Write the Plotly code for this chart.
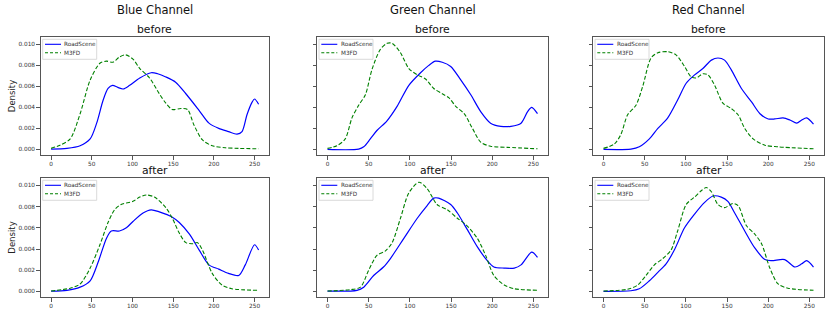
import plotly.graph_objects as go

channels = ["Blue Channel", "Green Channel", "Red Channel"]
stages = ["before", "after"]
series_names = ["RoadScene", "M3FD"]
x_ticks = [0, 50, 100, 150, 200, 250]
y_ticks = [0.000, 0.002, 0.004, 0.006, 0.008, 0.010]

# ---- Blue channel ----
blue_before_rs_x = [0, 19.5, 35.7, 48, 56, 64, 70, 75.5, 82, 88.5, 96.6, 109, 123, 131, 141, 153, 165.6, 182, 194, 206, 218, 228.5, 234.6, 240.7, 247, 250, 255]
blue_before_rs_y = [0.00003, 0.0001, 0.00035, 0.001, 0.0025, 0.0047, 0.0058, 0.0061, 0.0059, 0.00575, 0.0061, 0.0068, 0.0073, 0.0072, 0.0069, 0.0064, 0.0053, 0.0037, 0.0025, 0.002, 0.0017, 0.00146, 0.0017, 0.0033, 0.0045, 0.0048, 0.0043]
blue_before_m3_x = [0, 11, 23.5, 35.7, 48, 60, 68, 76, 84, 91.7, 100.6, 109, 121, 133, 141, 149, 159.5, 167.6, 175.7, 186, 198, 214, 230.5, 255]
blue_before_m3_y = [0.0001, 0.0004, 0.001, 0.0034, 0.0066, 0.0082, 0.0084, 0.0083, 0.0088, 0.009, 0.0086, 0.0077, 0.0068, 0.0053, 0.0044, 0.0038, 0.0039, 0.0038, 0.0023, 0.0009, 0.00035, 0.00016, 0.0001, 0.00006]
blue_after_rs_x = [0, 19.5, 35.7, 48, 58, 68, 74, 84, 92.5, 100.6, 113, 123, 133, 149, 157.5, 170, 182, 194, 206, 218, 230.5, 238.6, 250, 255]
blue_after_rs_y = [0.00003, 0.0001, 0.0004, 0.001, 0.0028, 0.005, 0.0057, 0.0057, 0.006, 0.0066, 0.0074, 0.0077, 0.0075, 0.007, 0.0065, 0.0054, 0.0039, 0.0025, 0.0021, 0.0017, 0.0015, 0.0025, 0.0044, 0.0039]
blue_after_m3_x = [0, 23.5, 35.7, 48, 60, 70, 78, 86, 100.6, 109, 117, 127, 141, 149, 157.5, 165.6, 174, 180, 186, 198, 210, 222, 255]
blue_after_m3_y = [0.00003, 0.0003, 0.0007, 0.0022, 0.0044, 0.0065, 0.0077, 0.0082, 0.0085, 0.0089, 0.0091, 0.0089, 0.0079, 0.0069, 0.0055, 0.0046, 0.0045, 0.0046, 0.0039, 0.0017, 0.0006, 0.00025, 0.0001]

# ---- Green channel ----
green_before_rs_x = [0, 37.8, 44, 52, 60, 72, 84.5, 98.8, 113, 123, 131, 139.4, 149.6, 162, 174, 186, 198, 210.5, 222.8, 235, 243, 248, 255]
green_before_rs_y = [0.0, 0.00003, 0.00025, 0.001, 0.0018, 0.0027, 0.0041, 0.0061, 0.0073, 0.008, 0.0084, 0.0083, 0.0079, 0.0066, 0.0052, 0.0036, 0.0025, 0.0022, 0.0022, 0.0025, 0.0036, 0.004, 0.0034]
green_before_m3_x = [0, 11.4, 21.5, 29.7, 37.8, 46, 54, 64, 72.4, 78.5, 88.6, 98.8, 109, 119, 129, 139.4, 147.6, 155.7, 166, 176, 186, 198, 218.7, 255]
green_before_m3_y = [0.0001, 0.00035, 0.001, 0.003, 0.0042, 0.0052, 0.0076, 0.0095, 0.0101, 0.0101, 0.0092, 0.0077, 0.0071, 0.0067, 0.0058, 0.0053, 0.0049, 0.0041, 0.0034, 0.002, 0.0007, 0.0003, 0.0002, 0.00006]
green_after_rs_x = [0, 35.8, 44, 56, 68, 76.4, 92.7, 109, 121, 129, 135, 149.6, 157.7, 170, 182, 194, 202, 214.6, 226.8, 235, 248, 255]
green_after_rs_y = [0.00003, 0.0001, 0.0004, 0.0015, 0.0023, 0.0031, 0.005, 0.0069, 0.0081, 0.0088, 0.0088, 0.0082, 0.0074, 0.0058, 0.0042, 0.0029, 0.0023, 0.0022, 0.0022, 0.0025, 0.0037, 0.0032]
green_after_m3_x = [0, 27.6, 40, 50, 60, 70, 78.5, 88.6, 98.8, 111, 121, 133, 145.5, 157.7, 168, 182, 192, 202, 214.6, 226.8, 255]
green_after_m3_y = [0.00003, 0.00016, 0.0004, 0.002, 0.0034, 0.0038, 0.0046, 0.0069, 0.0093, 0.0103, 0.0097, 0.0082, 0.0077, 0.0069, 0.0063, 0.005, 0.0034, 0.0015, 0.0006, 0.00025, 0.0001]

# ---- Red channel ----
red_before_rs_x = [0, 33.3, 43.5, 55.7, 66, 78, 90, 100.4, 110.6, 120.7, 131, 139, 147, 155, 167.5, 180, 190, 200, 208, 218, 226.4, 234.6, 240.7, 246.7, 255]
red_before_rs_y = [0.0, 0.00003, 0.00025, 0.001, 0.002, 0.003, 0.0047, 0.0063, 0.0071, 0.0077, 0.0085, 0.0087, 0.0085, 0.0076, 0.0058, 0.0045, 0.0034, 0.0029, 0.0029, 0.003, 0.0028, 0.0025, 0.0028, 0.003, 0.0024]
red_before_m3_x = [0, 13, 21, 29.3, 39.4, 47.6, 57.7, 66, 78, 88, 98.4, 106.5, 112.6, 120.7, 126.8, 135, 145, 155, 163.4, 171.5, 181.7, 196, 212, 255]
red_before_m3_y = [0.0001, 0.0005, 0.0014, 0.0033, 0.0042, 0.006, 0.0087, 0.0092, 0.0093, 0.009, 0.0079, 0.0069, 0.0068, 0.0072, 0.0071, 0.0061, 0.0044, 0.0039, 0.0033, 0.002, 0.001, 0.0004, 0.00025, 0.00006]
red_after_rs_x = [0, 33.3, 43.5, 55.7, 66, 76, 86, 98.4, 110.6, 122.8, 133, 143, 151, 159.3, 171.5, 183.7, 196, 204, 220, 232.5, 240.7, 246.7, 255]
red_after_rs_y = [0.0, 0.00006, 0.00025, 0.001, 0.0018, 0.0026, 0.0039, 0.006, 0.0073, 0.0084, 0.009, 0.0089, 0.0085, 0.0074, 0.0057, 0.0041, 0.003, 0.0029, 0.003, 0.0023, 0.0026, 0.0029, 0.0023]
red_after_m3_x = [0, 29.3, 41.5, 51.6, 61.8, 72, 82, 90, 100.4, 110.6, 118.7, 124.8, 131, 139, 147, 157, 163.4, 173.6, 183.7, 191.9, 202, 212, 224, 255]
red_after_m3_y = [0.00003, 0.0002, 0.0006, 0.0015, 0.0025, 0.0031, 0.0039, 0.0057, 0.0082, 0.0089, 0.0095, 0.0098, 0.0094, 0.0082, 0.0079, 0.0083, 0.0081, 0.0062, 0.0054, 0.0045, 0.0022, 0.0007, 0.0003, 0.0001]

data = {
    (0, 0): ((blue_before_rs_x, blue_before_rs_y), (blue_before_m3_x, blue_before_m3_y)),
    (1, 0): ((blue_after_rs_x, blue_after_rs_y), (blue_after_m3_x, blue_after_m3_y)),
    (0, 1): ((green_before_rs_x, green_before_rs_y), (green_before_m3_x, green_before_m3_y)),
    (1, 1): ((green_after_rs_x, green_after_rs_y), (green_after_m3_x, green_after_m3_y)),
    (0, 2): ((red_before_rs_x, red_before_rs_y), (red_before_m3_x, red_before_m3_y)),
    (1, 2): ((red_after_rs_x, red_after_rs_y), (red_after_m3_x, red_after_m3_y)),
}

W, H = 831, 315
col_px = [(40.7, 269.0), (317.0, 548.0), (593.0, 824.0)]
row_px = [(37.0, 155.0), (178.0, 297.0)]

BLUE = "#0000ff"
GREEN = "#008000"
FONT = "DejaVu Sans"
TICK_SIZE = 5.8
fig = go.Figure()
layout = dict(
    width=W, height=H, margin=dict(l=0, r=0, t=0, b=0),
    paper_bgcolor="white", plot_bgcolor="white",
    font=dict(family=FONT, color="#222"), showlegend=False,
)
annotations = []
shapes = []

def px(xp):
    return xp / W

def py(yp):
    return 1 - yp / H

for r in range(2):
    for c in range(3):
        i = r * 3 + c + 1
        sfx = "" if i == 1 else str(i)
        (rsx, rsy), (m3x, m3y) = data[(r, c)]
        fig.add_trace(go.Scatter(x=rsx, y=rsy, mode="lines", name=series_names[0],
                                 line=dict(color=BLUE, width=1.2, shape="spline", smoothing=0.8),
                                 xaxis="x" + sfx, yaxis="y" + sfx))
        fig.add_trace(go.Scatter(x=m3x, y=m3y, mode="lines", name=series_names[1],
                                 line=dict(color=GREEN, width=1.1, dash="4px,2px", shape="spline", smoothing=0.8),
                                 xaxis="x" + sfx, yaxis="y" + sfx))
        x0, x1 = col_px[c]
        y0, y1 = row_px[r]
        layout["xaxis" + sfx] = dict(
            domain=[px(x0), px(x1)], range=[-12.75, 267.75], tickvals=x_ticks,
            showgrid=False, zeroline=False, showline=True, mirror=True,
            linecolor="#555", linewidth=1, ticks="outside", ticklen=3.5, tickcolor="#555",
            tickfont=dict(size=TICK_SIZE, color="#333", family=FONT), anchor="y" + sfx,
        )
        layout["yaxis" + sfx] = dict(
            domain=[py(y1), py(y0)], range=[-0.00053, 0.0107], tickvals=y_ticks,
            tickformat=".3f", showticklabels=(c == 0),
            showgrid=False, zeroline=False, showline=True, mirror=True,
            linecolor="#555", linewidth=1, ticks="outside", ticklen=3.5, tickcolor="#555",
            tickfont=dict(size=TICK_SIZE, color="#333", family=FONT), anchor="x" + sfx,
        )
        if c == 0:
            layout["yaxis" + sfx]["title"] = dict(text="Density", font=dict(size=8.5, family=FONT, color="#222"), standoff=1)

        # compact legend box (matplotlib style)
        bx0, bx1 = x0 + 2, x0 + 56
        by0, by1 = y0 + 2.3, y0 + 22.3
        shapes.append(dict(type="rect", xref="paper", yref="paper",
                           x0=px(bx0), x1=px(bx1), y0=py(by1), y1=py(by0),
                           line=dict(color="#d0d0d0", width=0.8), fillcolor="rgba(255,255,255,0.8)"))
        for k, (nm, col, dash) in enumerate([(series_names[0], BLUE, "solid"), (series_names[1], GREEN, "3px,2px")]):
            ly = y0 + (7.3 if k == 0 else 15.7)
            shapes.append(dict(type="line", xref="paper", yref="paper",
                               x0=px(x0 + 4.3), x1=px(x0 + 20.3), y0=py(ly), y1=py(ly),
                               line=dict(color=col, width=1.1, dash=dash)))
            annotations.append(dict(text=nm, x=px(x0 + 21.5), y=py(ly), xref="paper", yref="paper",
                                    xanchor="left", yanchor="middle", showarrow=False,
                                    font=dict(size=5.7, family=FONT, color="#333")))
        # subplot title
        annotations.append(dict(
            text=stages[r], x=px((x0 + x1) / 2), y=py(y0 - 8),
            xref="paper", yref="paper", xanchor="center", yanchor="middle",
            showarrow=False, font=dict(size=10.8, family=FONT, color="#111"),
        ))
        if r == 0:
            annotations.append(dict(
                text=channels[c], x=px((x0 + x1) / 2), y=py(10),
                xref="paper", yref="paper", xanchor="center", yanchor="middle",
                showarrow=False, font=dict(size=11.5, family=FONT, color="#111"),
            ))

layout["annotations"] = annotations
layout["shapes"] = shapes
fig.update_layout(**layout)
fig.write_html("out.html", config={"displayModeBar": False},
               post_script="document.body.style.margin='0';document.body.style.overflow='hidden';")
